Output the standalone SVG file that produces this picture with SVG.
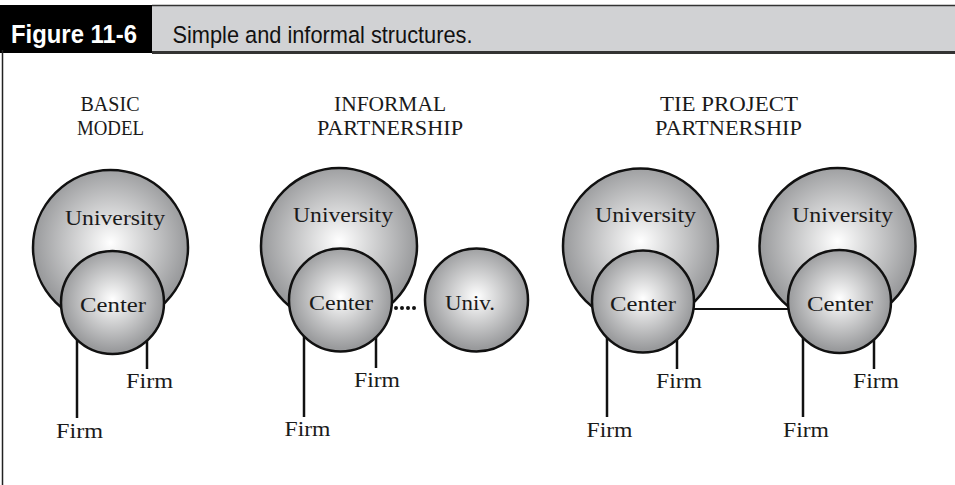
<svg xmlns="http://www.w3.org/2000/svg" width="955" height="485" viewBox="0 0 955 485">
<defs>
<radialGradient id="g" cx="0.5" cy="0.47" r="0.5">
<stop offset="0" stop-color="#ffffff"/>
<stop offset="1" stop-color="#999a9c"/>
</radialGradient>
<style>
.c{fill:url(#g);stroke:#111;stroke-width:2.5}
.t{font-family:"Liberation Serif","Times New Roman",serif;font-size:21.5px;fill:#1a1a1a;text-anchor:middle}
.h{font-family:"Liberation Serif","Times New Roman",serif;font-size:20px;fill:#1a1a1a;text-anchor:middle}
.ln{stroke:#111;stroke-width:2.5;fill:none}
</style>
</defs>
<rect x="0" y="0" width="955" height="485" fill="#fff"/>
<g id="header">
<rect x="152" y="5" width="803" height="48" fill="#d1d2d4"/>
<line x1="152" y1="5.5" x2="955" y2="5.5" stroke="#333" stroke-width="1.5"/>
<line x1="152" y1="52.5" x2="955" y2="52.5" stroke="#333" stroke-width="3"/>
<rect x="0" y="5" width="152" height="48" fill="#000"/>
<line x1="2.5" y1="50" x2="2.5" y2="485" stroke="#222" stroke-width="1.5"/>
<text x="11" y="43" font-family="'Liberation Sans',Arial,sans-serif" font-weight="bold" font-size="26" fill="#fff" textLength="126" lengthAdjust="spacingAndGlyphs">Figure 11-6</text>
<text x="172.5" y="42.5" font-family="'Liberation Sans',Arial,sans-serif" font-size="24.5" fill="#111" textLength="300" lengthAdjust="spacingAndGlyphs">Simple and informal structures.</text>
</g>
<g id="headings">
<text class="h" x="110" y="111" textLength="59" lengthAdjust="spacingAndGlyphs">BASIC</text>
<text class="h" x="110.5" y="134.5" textLength="67" lengthAdjust="spacingAndGlyphs">MODEL</text>
<text class="h" x="390" y="111" textLength="112" lengthAdjust="spacingAndGlyphs">INFORMAL</text>
<text class="h" x="390" y="134.5" textLength="146" lengthAdjust="spacingAndGlyphs">PARTNERSHIP</text>
<text class="h" x="729" y="111" textLength="138" lengthAdjust="spacingAndGlyphs">TIE PROJECT</text>
<text class="h" x="728.5" y="134.5" textLength="147" lengthAdjust="spacingAndGlyphs">PARTNERSHIP</text>
</g>
<g id="connectors">
<line class="ln" x1="77" y1="320" x2="77" y2="418"/>
<line class="ln" x1="147" y1="320" x2="147" y2="369"/>
<line class="ln" x1="304" y1="320" x2="304" y2="417"/>
<line class="ln" x1="376" y1="320" x2="376" y2="368"/>
<line class="ln" x1="607" y1="320" x2="607" y2="417"/>
<line class="ln" x1="677" y1="320" x2="677" y2="369"/>
<line class="ln" x1="803" y1="320" x2="803" y2="417"/>
<line class="ln" x1="874" y1="320" x2="874" y2="369"/>
<line x1="396" y1="308" x2="420" y2="308" stroke="#111" stroke-width="4" stroke-linecap="round" stroke-dasharray="0 6"/>
<line x1="690" y1="309" x2="792" y2="309" stroke="#111" stroke-width="2.2"/>
</g>
<g id="basic-university"><circle class="c" cx="110.5" cy="247.5" r="77.5"/><text class="t" x="115" y="224.5" textLength="100" lengthAdjust="spacingAndGlyphs">University</text></g>
<g id="basic-center"><circle class="c" cx="112.5" cy="302.5" r="51.5"/><text class="t" x="113" y="312" textLength="66" lengthAdjust="spacingAndGlyphs">Center</text></g>
<g id="informal-university"><circle class="c" cx="339" cy="246" r="78"/><text class="t" x="343" y="222" textLength="100" lengthAdjust="spacingAndGlyphs">University</text></g>
<g id="informal-center"><circle class="c" cx="340.5" cy="300" r="51.5"/><text class="t" x="341" y="310" textLength="64" lengthAdjust="spacingAndGlyphs">Center</text></g>
<g id="informal-univ"><circle class="c" cx="476.5" cy="300" r="51.5"/><text class="t" x="470" y="310" textLength="50" lengthAdjust="spacingAndGlyphs">Univ.</text></g>
<g id="tie-university-1"><circle class="c" cx="640.5" cy="246" r="77.5"/><text class="t" x="645.5" y="222" textLength="101" lengthAdjust="spacingAndGlyphs">University</text></g>
<g id="tie-center-1"><circle class="c" cx="643" cy="301.5" r="51"/><text class="t" x="643" y="311" textLength="66" lengthAdjust="spacingAndGlyphs">Center</text></g>
<g id="tie-university-2"><circle class="c" cx="837.5" cy="246" r="78"/><text class="t" x="842.5" y="222" textLength="101" lengthAdjust="spacingAndGlyphs">University</text></g>
<g id="tie-center-2"><circle class="c" cx="839.5" cy="301.5" r="51.5"/><text class="t" x="840" y="311" textLength="66" lengthAdjust="spacingAndGlyphs">Center</text></g>
<g id="firms">
<text class="t" x="149.5" y="388" textLength="47" lengthAdjust="spacingAndGlyphs">Firm</text>
<text class="t" x="79.5" y="438" textLength="47" lengthAdjust="spacingAndGlyphs">Firm</text>
<text class="t" x="377" y="387" textLength="46" lengthAdjust="spacingAndGlyphs">Firm</text>
<text class="t" x="307.5" y="436" textLength="46" lengthAdjust="spacingAndGlyphs">Firm</text>
<text class="t" x="679" y="388" textLength="46" lengthAdjust="spacingAndGlyphs">Firm</text>
<text class="t" x="609.5" y="437" textLength="46" lengthAdjust="spacingAndGlyphs">Firm</text>
<text class="t" x="876" y="388" textLength="46" lengthAdjust="spacingAndGlyphs">Firm</text>
<text class="t" x="806" y="437" textLength="46" lengthAdjust="spacingAndGlyphs">Firm</text>
</g>
</svg>
